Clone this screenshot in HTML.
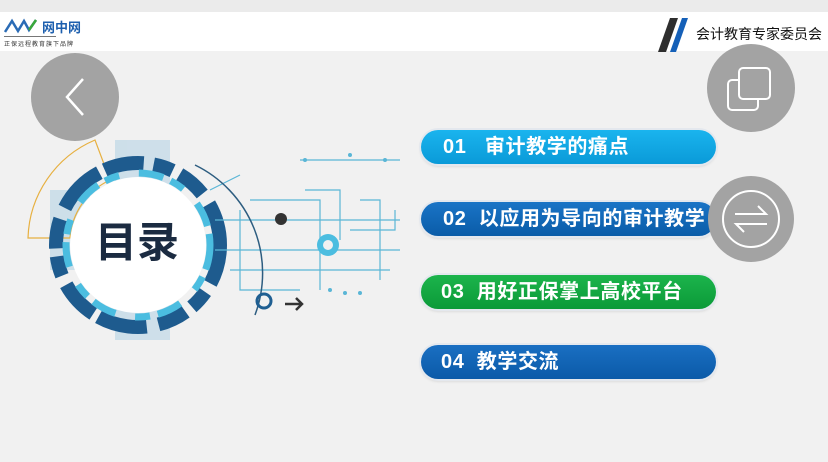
<!DOCTYPE html><html><head><meta charset="utf-8"><style>
body{margin:0;width:828px;height:462px;overflow:hidden;background:#f1f1f1;font-family:"Liberation Sans","Noto Sans CJK SC",sans-serif;position:relative}
.a{position:absolute}
.pill{position:absolute;left:421px;width:295px;height:34px;border-radius:17px;color:#fff;font-weight:bold;font-size:20px;line-height:34px;box-shadow:0 0 0 2px #e4e8ee,0 2px 3px rgba(0,0,0,.15);white-space:nowrap;overflow:hidden;letter-spacing:0.6px}
.circ{position:absolute;border-radius:50%;background:#a3a3a3}
</style></head><body>
<div class="a" style="left:0;top:0;width:828px;height:12px;background:#ebebeb"></div>
<div class="a" style="left:0;top:12px;width:828px;height:39px;background:#fff"></div>
<svg class="a" style="left:4px;top:18px" width="40" height="16"><polyline points="1,14 8,3 14,13 20,3 25,12 32,2" fill="none" stroke="#2a6bb5" stroke-width="2.5"/><polyline points="25,12 32,2" stroke="#3aa83a" stroke-width="2.5"/></svg>
<div class="a" style="left:42px;top:17px;font-size:13px;font-weight:bold;color:#1d5fae">网中网</div>
<div class="a" style="left:4px;top:36px;width:52px;height:1px;background:#777"></div>
<div class="a" style="left:4px;top:39px;font-size:6px;color:#333;letter-spacing:1px">正保远程教育旗下品牌</div>
<svg class="a" style="left:656px;top:16px" width="40" height="36"><polygon points="2,36 14,2 22,2 10,36" fill="#2e2e2e"/><polygon points="14,36 26,2 32,2 20,36" fill="#1560b8"/></svg>
<div class="a" style="left:696px;top:24px;font-size:14px;color:#111">会计教育专家委员会</div>

<div class="circ" style="left:31px;top:53px;width:88px;height:88px"></div>
<svg class="a" style="left:31px;top:53px" width="88" height="88"><polyline points="52,26 36,44 52,62" fill="none" stroke="#fff" stroke-width="2.5"/></svg>
<div class="circ" style="left:707px;top:44px;width:88px;height:88px"></div>
<svg class="a" style="left:707px;top:44px" width="88" height="88"><rect x="21" y="36" width="30" height="30" rx="4" fill="none" stroke="#fff" stroke-width="2"/><rect x="32" y="24" width="31" height="31" rx="4" fill="#a3a3a3" stroke="#fff" stroke-width="2"/></svg>

<svg class="a" style="left:0;top:100px" width="420" height="260">
<g fill="#c5dbe8" opacity=".8">
<rect x="115" y="40" width="55" height="200"/><rect x="50" y="90" width="40" height="80"/>
</g>
<path d="M28 138 A110 110 0 0 1 95 40 L110 80 A70 70 0 0 0 70 138Z" fill="none" stroke="#e7b040" stroke-width="1.2"/>
<circle cx="138" cy="145" r="82" fill="none" stroke="#1e5b8e" stroke-width="14" stroke-dasharray="40 10 20 8 30 12 50 6"/>
<circle cx="138" cy="145" r="72" fill="none" stroke="#4bbde0" stroke-width="7" stroke-dasharray="25 8 15 20"/>
<path d="M210 90 L240 75 M215 120 L400 120 M215 150 L400 150 M230 170 L390 170 M250 100 L320 100 L320 190 M360 100 L380 100 L380 180 M300 60 L400 60 M305 90 L340 90 L340 140 M240 110 L240 190 L300 190 M350 130 L395 130 L395 110" stroke="#5ab6d6" stroke-width="1.2" fill="none"/>
<g fill="#5ab6d6"><circle cx="305" cy="60" r="2"/><circle cx="350" cy="55" r="2"/><circle cx="385" cy="60" r="2"/><circle cx="330" cy="190" r="2"/><circle cx="345" cy="193" r="2"/><circle cx="360" cy="193" r="2"/></g>
<path d="M195 65 A120 120 0 0 1 255 215" fill="none" stroke="#2d5d80" stroke-width="1.5"/>
<circle cx="328" cy="145" r="11" fill="#4bbde0"/><circle cx="328" cy="145" r="5" fill="#f1f1f1"/>
<circle cx="281" cy="119" r="6" fill="#333"/>
<circle cx="264" cy="201" r="7" fill="none" stroke="#1f5f92" stroke-width="3"/>
<path d="M285 204 L302 204 M296 198 L302 204 L296 210" stroke="#333" stroke-width="2.5" fill="none"/>
<circle cx="138" cy="145" r="68" fill="#fff"/>
</svg>
<div class="a" style="left:95px;top:218px;font-size:42px;font-weight:bold;color:#1b2b41;line-height:50px">目录</div>

<div class="pill" style="top:130px;background:linear-gradient(#1ab4ee,#0a9ad8)"><span style="margin-left:22px">01&nbsp;&nbsp;&nbsp;审计教学的痛点</span></div>
<div class="pill" style="top:202px;background:linear-gradient(#1a74c6,#0a5ca8)"><span style="margin-left:22px">02&nbsp;&nbsp;以应用为导向的审计教学</span></div>
<div class="pill" style="top:275px;background:linear-gradient(#1cb44c,#0b9a38)"><span style="margin-left:20px">03&nbsp;&nbsp;用好正保掌上高校平台</span></div>
<div class="pill" style="top:345px;background:linear-gradient(#1a6fc2,#0b5aa8)"><span style="margin-left:20px">04&nbsp;&nbsp;教学交流</span></div>
<div class="circ" style="left:708px;top:176px;width:86px;height:86px"></div>
<svg class="a" style="left:708px;top:176px" width="86" height="86"><circle cx="43" cy="43" r="28" fill="none" stroke="#fff" stroke-width="2"/><polyline points="27,38 58,38 50,30" fill="none" stroke="#fff" stroke-width="2"/><polyline points="59,48 28,48 36,56" fill="none" stroke="#fff" stroke-width="2"/></svg>
</body></html>
